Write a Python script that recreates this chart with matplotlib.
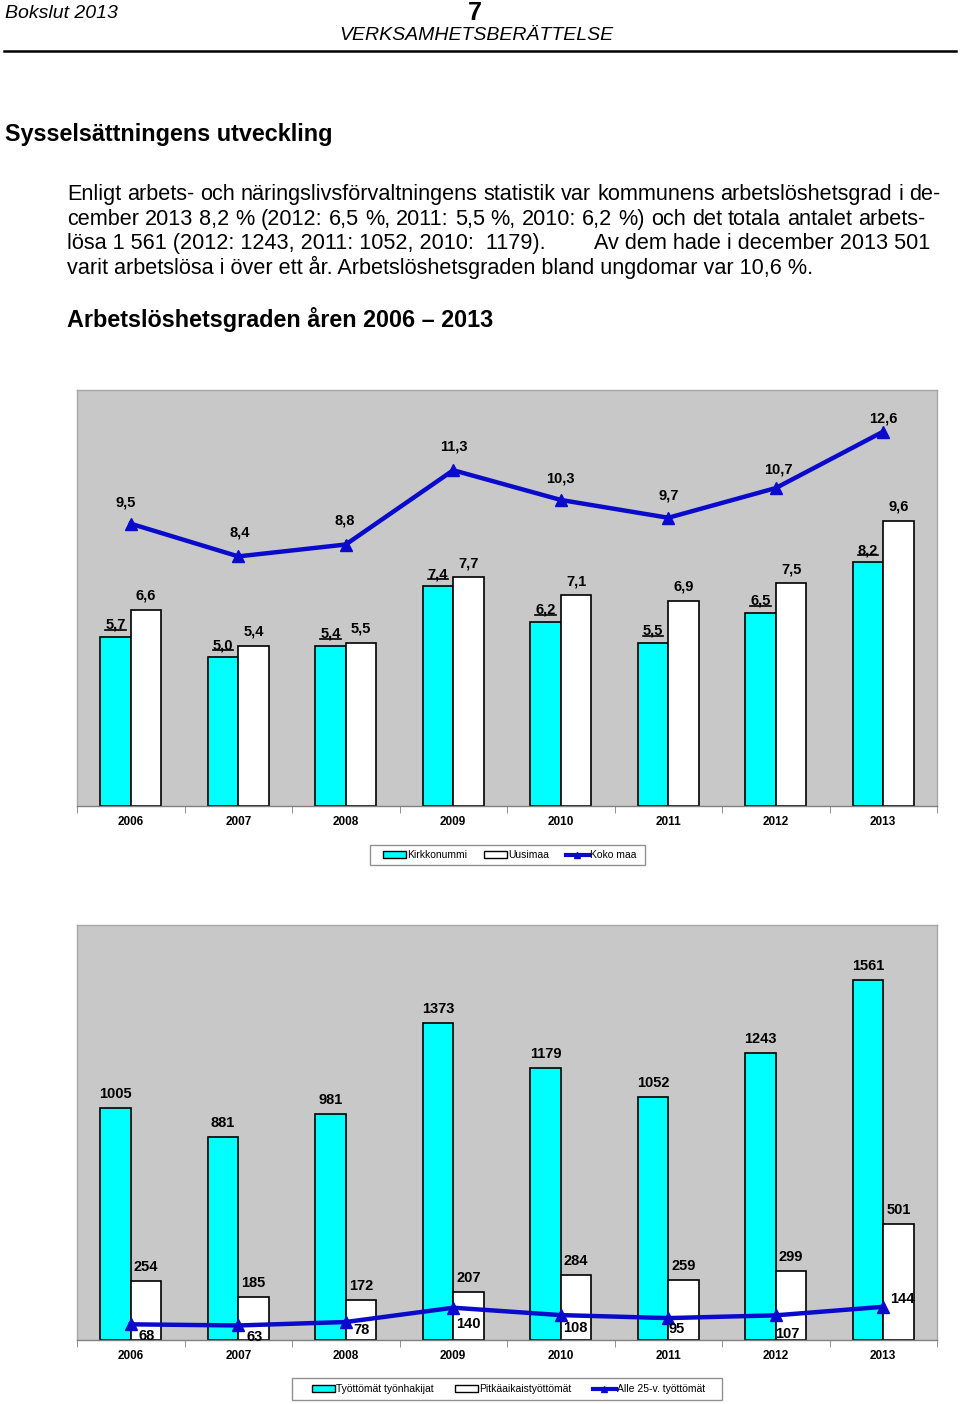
import matplotlib
matplotlib.use('Agg')
import matplotlib.pyplot as plt
from matplotlib.patches import Patch, Rectangle
from matplotlib.lines import Line2D

plt.rcParams['font.family'] = ['Liberation Sans', 'DejaVu Sans']

# data
years = ['2006', '2007', '2008', '2009', '2010', '2011', '2012', '2013']
kirkkonummi = [5.7, 5.0, 5.4, 7.4, 6.2, 5.5, 6.5, 8.2]
uusimaa = [6.6, 5.4, 5.5, 7.7, 7.1, 6.9, 7.5, 9.6]
koko_maa = [9.5, 8.4, 8.8, 11.3, 10.3, 9.7, 10.7, 12.6]

tyottomat = [1005, 881, 981, 1373, 1179, 1052, 1243, 1561]
pitkaaikais = [254, 185, 172, 207, 284, 259, 299, 501]
alle25 = [68, 63, 78, 140, 108, 95, 107, 144]

W, H = 960, 1404
CYAN = '#00FFFF'
BLUE = '#0A0ACC'
GRAY = '#C8C8C8'

fig = plt.figure(figsize=(W / 100, H / 100), dpi=100)


def fy(y):
    return 1 - y / H


def fx(x):
    return x / W


# header
fig.text(fx(5), fy(13), 'Bokslut 2013', fontsize=14, style='italic', va='center')
fig.text(fx(475), fy(13), '7', fontsize=18, weight='bold', ha='center', va='center')
fig.text(fx(476), fy(36), 'VERKSAMHETSBERÄTTELSE', fontsize=14, style='italic',
         ha='center', va='center')
fig.add_artist(Line2D([fx(4), fx(956)], [fy(51), fy(51)], color='black', lw=1.8))

fig.text(fx(5), fy(134), 'Sysselsättningens utveckling', fontsize=16.8, weight='bold',
         va='center')

renderer = fig.canvas.get_renderer()
PS = 15.6


def justified(line, x0, x1, yb, size=PS):
    words = line.split(' ')
    texts = [fig.text(0, fy(yb), w, fontsize=size, va='baseline') for w in words]
    widths = [t.get_window_extent(renderer).width for t in texts]
    gap = (x1 - x0 - sum(widths)) / (len(words) - 1)
    x = x0
    for t, w in zip(texts, widths):
        t.set_x(fx(x))
        x += w + gap


justified('Enligt arbets- och näringslivsförvaltningens statistik var kommunens '
          'arbetslöshetsgrad i de-', 67, 940, 200)
justified('cember 2013 8,2 % (2012: 6,5 %, 2011: 5,5 %, 2010: 6,2 %) och det '
          'totala antalet arbets-', 67, 925, 225)
fig.text(fx(67), fy(249), 'lösa 1 561 (2012: 1243, 2011: 1052, 2010:  1179).',
         fontsize=PS, va='baseline')
fig.text(fx(930), fy(249), 'Av dem hade i december 2013 501', fontsize=PS,
         va='baseline', ha='right')
fig.text(fx(67), fy(274), 'varit arbetslösa i över ett år. Arbetslöshetsgraden bland '
         'ungdomar var 10,6 %.', fontsize=PS, va='baseline')

fig.text(fx(67), fy(320), 'Arbetslöshetsgraden åren 2006 – 2013', fontsize=16.8,
         weight='bold', va='center')


def comma(v):
    return f'{v:.1f}'.replace('.', ',')


def style_axes(ax, ymax):
    ax.set_facecolor(GRAY)
    ax.set_xlim(-0.5, len(years) - 0.5)
    ax.set_ylim(0, ymax)
    ax.set_yticks([])
    ax.set_xticks(range(len(years)))
    ax.set_xticklabels(years, fontsize=8.5, weight='bold')
    ax.tick_params(axis='x', which='major', length=0, pad=7)
    ax.set_xticks([i - 0.5 for i in range(len(years) + 1)], minor=True)
    ax.tick_params(axis='x', which='minor', length=5, color='#808080', direction='out')
    for s in ['top', 'right', 'left']:
        ax.spines[s].set_color('#A8A8A8')
        ax.spines[s].set_linewidth(1)
    ax.spines['bottom'].set_color('#808080')
    ax.spines['bottom'].set_linewidth(1)


def legend_box(handles, labels, box, inner):
    bx0, bx1, by0, by1 = box
    ix0, ix1 = inner
    fig.legend(handles, labels, loc='center', mode='expand',
               bbox_to_anchor=(fx(ix0), fy(by1), (ix1 - ix0) / W, (by1 - by0) / H),
               ncol=3, fontsize=7.5, frameon=False, handlelength=2.2,
               handleheight=0.6, handletextpad=0.1, borderpad=0, borderaxespad=0)
    fig.add_artist(Rectangle((fx(bx0), fy(by1)), (bx1 - bx0) / W, (by1 - by0) / H,
                             transform=fig.transFigure, facecolor='none',
                             edgecolor='#909090', lw=1))


bw = 0.285
xs = list(range(len(years)))

# chart 1
ax1 = fig.add_axes([fx(77), fy(806), 860 / W, 416 / H])
style_axes(ax1, 14)
ax1.bar([x - bw / 2 for x in xs], kirkkonummi, bw, color=CYAN, edgecolor='black', lw=1.2)
ax1.bar([x + bw / 2 for x in xs], uusimaa, bw, color='white', edgecolor='black', lw=1.2)
ax1.plot(xs, koko_maa, color=BLUE, lw=3.2, marker='^', ms=9, zorder=5)

under = []
for x, v in zip(xs, kirkkonummi):
    under.append(ax1.annotate(comma(v), (x - bw / 2, v), xytext=(0, 5),
                              textcoords='offset pixels', ha='center', va='bottom',
                              fontsize=10.5, weight='bold'))
for x, v in zip(xs, uusimaa):
    ax1.annotate(comma(v), (x + bw / 2, v), xytext=(0, 7), textcoords='offset pixels',
                 ha='center', va='bottom', fontsize=10.5, weight='bold')
koko_lbl_off = [(-5, 21), (1, 24), (-1, 24), (1, 24), (0, 21), (0, 22), (3, 19), (0, 13)]
for x, v, off in zip(xs, koko_maa, koko_lbl_off):
    ax1.annotate(comma(v), (x, v), xytext=off, textcoords='offset pixels',
                 ha='center', va='center', fontsize=10.5, weight='bold')

handles1 = [Patch(facecolor=CYAN, edgecolor='black'),
            Patch(facecolor='white', edgecolor='black'),
            Line2D([], [], color=BLUE, lw=3, marker='^', ms=5)]
legend_box(handles1, ['Kirkkonummi', 'Uusimaa', 'Koko maa'],
           (370, 645, 845, 865), (383, 636))

# chart 2
ax2 = fig.add_axes([fx(77), fy(1340), 860 / W, 415 / H])
style_axes(ax2, 1800)
ax2.bar([x - bw / 2 for x in xs], tyottomat, bw, color=CYAN, edgecolor='black', lw=1.2)
ax2.bar([x + bw / 2 for x in xs], pitkaaikais, bw, color='white', edgecolor='black', lw=1.2)
ax2.plot(xs, alle25, color=BLUE, lw=3.2, marker='^', ms=9, zorder=5)

for x, v in zip(xs, tyottomat):
    ax2.annotate(str(v), (x - bw / 2, v), xytext=(0, 7), textcoords='offset pixels',
                 ha='center', va='bottom', fontsize=10.5, weight='bold')
for x, v in zip(xs, pitkaaikais):
    ax2.annotate(str(v), (x + bw / 2, v), xytext=(0, 7), textcoords='offset pixels',
                 ha='center', va='bottom', fontsize=10.5, weight='bold')
line_lbl_off = [(16, -12), (16, -12), (16, -8), (15, -16), (15, -13), (8, -11),
                (12, -19), (19, 8)]
for x, v, off in zip(xs, alle25, line_lbl_off):
    ax2.annotate(str(v), (x, v), xytext=off, textcoords='offset pixels',
                 ha='center', va='center', fontsize=10.5, weight='bold', zorder=6)

handles2 = [Patch(facecolor=CYAN, edgecolor='black'),
            Patch(facecolor='white', edgecolor='black'),
            Line2D([], [], color=BLUE, lw=3, marker='^', ms=5)]
legend_box(handles2, ['Työttömät työnhakijat', 'Pitkäaikaistyöttömät',
                      'Alle 25-v. työttömät'], (292, 722, 1378, 1400), (312, 705))

# underline the Kirkkonummi labels
fig.canvas.draw()
inv = fig.transFigure.inverted()
for t in under:
    bb = t.get_window_extent(renderer)
    (x0, y0), (x1, _) = inv.transform([(bb.x0, bb.y0 + 2), (bb.x1, bb.y0 + 2)])
    fig.add_artist(Line2D([x0, x1], [y0, y0], color='black', lw=1.2))

fig.savefig('out.png', dpi=100)
